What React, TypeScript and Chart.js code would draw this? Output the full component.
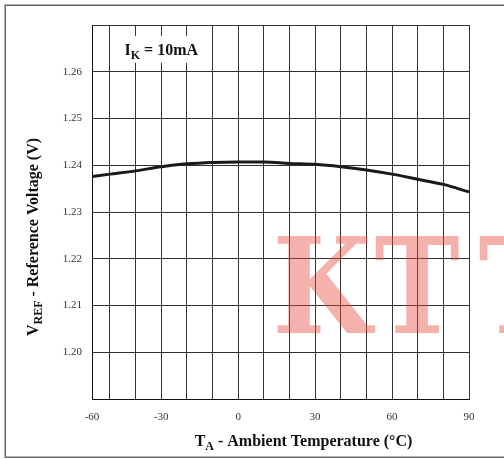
import React, { useEffect, useRef } from "react";
import { Chart, registerables } from "chart.js";

Chart.register(...registerables);

// ---- data ----
const temperatures = [-57, -50, -40, -30, -20, -10, 0, 10, 20, 30, 40, 50, 60, 70, 80, 90];
const vref = [1.2376, 1.2381, 1.2388, 1.2397, 1.2403, 1.2406, 1.2407, 1.2407, 1.2404, 1.2402, 1.2397, 1.239, 1.2381, 1.237, 1.2359, 1.2343];

const xMin = -57;
const xMax = 90;
const xGridValues = [-50, -40, -30, -20, -10, 0, 10, 20, 30, 40, 50, 60, 70, 80, 90];
const xLabelValues = [-30, 0, 30, 60, 90];
const xMinLabel = "-60";

const yMin = 1.19;
const yMax = 1.27;
const yTickValues = [1.19, 1.2, 1.21, 1.22, 1.23, 1.24, 1.25, 1.26, 1.27];
const yTickLabels = ["", "1.20", "1.21", "1.22", "1.23", "1.24", "1.25", "1.26", ""];

const annotationAt = { x: -30, y: 1.2648 };
const watermarkText = "KTT";
const SERIF = "'Liberation Serif', 'Times New Roman', serif";

function drawSubText(
  ctx: CanvasRenderingContext2D,
  parts: { t: string; sub?: boolean }[],
  cx: number,
  cy: number,
  size: number
) {
  const subSize = Math.round(size * 0.72);
  let total = 0;
  const widths = parts.map((p) => {
    ctx.font = `bold ${p.sub ? subSize : size}px ${SERIF}`;
    const w = ctx.measureText(p.t).width;
    total += w;
    return w;
  });
  let x = cx - total / 2;
  ctx.textBaseline = "alphabetic";
  ctx.textAlign = "left";
  parts.forEach((p, i) => {
    ctx.font = `bold ${p.sub ? subSize : size}px ${SERIF}`;
    ctx.fillText(p.t, x, cy + (p.sub ? size * 0.28 : 0));
    x += widths[i];
  });
  return total;
}

const decorPlugin = {
  id: "decor",
  beforeDraw(chart: any) {
    const { ctx, width, height } = chart;
    ctx.save();
    ctx.fillStyle = "#fff";
    ctx.fillRect(0, 0, width, height);
    ctx.strokeStyle = "#666";
    ctx.lineWidth = 1.5;
    ctx.strokeRect(5.25, 5.25, width + 20, height - 1.75 - 5.25);
    ctx.restore();
  },
  beforeDatasetsDraw(chart: any) {
    const { ctx } = chart;
    const xs = chart.scales.x;
    const ys = chart.scales.y;
    const cx = xs.getPixelForValue(annotationAt.x);
    const cy = ys.getPixelForValue(annotationAt.y);
    ctx.save();
    ctx.fillStyle = "#fff";
    ctx.fillRect(cx - 45, cy - 13.5, 90, 27);
    ctx.fillStyle = "#111";
    drawSubText(ctx, [{ t: "I" }, { t: "K", sub: true }, { t: " = 10mA" }], cx, cy + 5.5, 16);
    ctx.restore();
  },
  afterDraw(chart: any) {
    const { ctx, chartArea } = chart;
    ctx.save();
    // axis titles
    ctx.fillStyle = "#111";
    const xc = (chartArea.left + chartArea.right) / 2 + 23;
    drawSubText(
      ctx,
      [{ t: "T" }, { t: "A", sub: true }, { t: " - Ambient Temperature (°C)" }],
      xc,
      446,
      16
    );
    ctx.save();
    ctx.translate(chartArea.left - 59 + 5, (chartArea.top + chartArea.bottom) / 2 + 25);
    ctx.rotate(-Math.PI / 2);
    drawSubText(
      ctx,
      [{ t: "V" }, { t: "REF", sub: true }, { t: " - Reference Voltage (V)" }],
      0,
      0,
      16
    );
    ctx.restore();
    // watermark
    ctx.globalAlpha = 0.42;
    ctx.fillStyle = "rgb(232,72,60)";
    ctx.font = "bold 133px 'DejaVu Serif', serif";
    ctx.textBaseline = "alphabetic";
    ctx.textAlign = "center";
    const centers = [322, 417, 521];
    watermarkText.split("").forEach((ch, i) => {
      ctx.save();
      ctx.translate(centers[i] ?? 521 + (i - 2) * 106, 333);
      ctx.scale(0.86, 1);
      ctx.fillText(ch, 0, 0);
      ctx.restore();
    });
    ctx.restore();
  },
};

export default function App() {
  const ref = useRef<HTMLCanvasElement | null>(null);
  useEffect(() => {
    if (!ref.current) return;
    const chart = new Chart(ref.current, {
      type: "line",
      data: {
        datasets: [
          {
            data: temperatures.map((t, i) => ({ x: t, y: vref[i] })),
            borderColor: "#1a1a1a",
            borderWidth: 3,
            pointRadius: 0,
            cubicInterpolationMode: "monotone",
            fill: false,
          },
        ],
      },
      options: {
        animation: false,
        responsive: true,
        maintainAspectRatio: false,
        layout: { padding: { top: 25, right: 35, left: 0, bottom: 0 } },
        plugins: { legend: { display: false }, tooltip: { enabled: false } },
        scales: {
          x: {
            type: "linear",
            min: xMin,
            max: xMax,
            afterBuildTicks: (scale: any) => {
              scale.ticks = [xMin, ...xGridValues].map((v) => ({ value: v }));
            },
            afterFit: (scale: any) => {
              scale.height = 60;
            },
            grid: { color: "#333", lineWidth: 1, drawTicks: false },
            border: { color: "#111", width: 1 },
            ticks: {
              padding: 12,
              maxRotation: 0,
              autoSkip: false,
              color: "#333",
              font: { family: SERIF, size: 11 },
              callback: (v: any) => {
                if (v === xMin) return xMinLabel;
                return xLabelValues.includes(v) ? String(v) : "";
              },
            },
          },
          y: {
            type: "linear",
            min: yMin,
            max: yMax,
            afterBuildTicks: (scale: any) => {
              scale.ticks = yTickValues.map((v) => ({ value: v }));
            },
            afterFit: (scale: any) => {
              scale.width = 92;
            },
            grid: { color: "#333", lineWidth: 1, drawTicks: false },
            border: { color: "#111", width: 1 },
            ticks: {
              padding: 10,
              autoSkip: false,
              color: "#333",
              font: { family: SERIF, size: 11 },
              callback: (_v: any, i: number) => yTickLabels[i] ?? "",
            },
          },
        },
      } as any,
      plugins: [decorPlugin],
    });
    return () => chart.destroy();
  }, []);
  return (
    <div style={{ position: "fixed", left: 0, top: 0, width: 504, height: 459 }}>
      <canvas ref={ref} />
    </div>
  );
}
